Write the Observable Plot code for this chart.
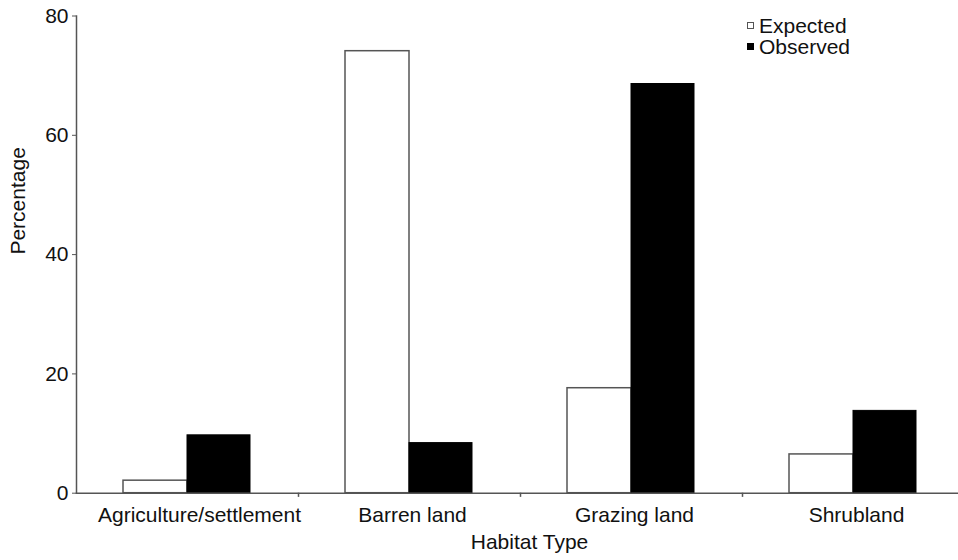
<!DOCTYPE html>
<html>
<head>
<meta charset="utf-8">
<script src="https://cdn.jsdelivr.net/npm/d3@7"></script>
<script src="https://cdn.jsdelivr.net/npm/@observablehq/plot@0.6"></script>
<style>
  html, body { margin: 0; padding: 0; background: #fff; overflow: hidden; }
  #wrap { position: relative; width: 958px; height: 560px; font-family: "Liberation Sans", Arial, Helvetica, sans-serif; }
  #legend { position: absolute; left: 747px; top: 15px; font-size: 21px; color: #111; line-height: 21px; }
  #legend .row { display: flex; align-items: center; }
  #legend .sw { width: 7px; height: 7px; margin-right: 5px; box-sizing: border-box; }
</style>
</head>
<body>
<div id="wrap">
  <div id="chart"></div>
  <div id="legend"></div>
</div>
<script>
const categories = ["Agriculture/settlement", "Barren land", "Grazing land", "Shrubland"];
const expected = [2.1, 74.1, 17.6, 6.5];
const observed = [9.7, 8.4, 68.6, 13.8];
const yTicks = [0, 20, 40, 60, 80];
const seriesNames = ["Expected", "Observed"];
const xTitle = "Habitat Type";
const yTitle = "Percentage";

const axisColor = "#555";
const font = '"Liberation Sans", Arial, Helvetica, sans-serif';

const plot = Plot.plot({
  width: 958,
  height: 560,
  marginLeft: 76,
  marginRight: 0,
  marginTop: 15.5,
  marginBottom: 67.3,
  style: { fontFamily: font, fontSize: "21px", color: "#111", background: "white" },
  x: { domain: categories, range: [76, 964], padding: 0 },
  y: { domain: [0, 80] },
  marks: [
    Plot.barY(categories, {
      x: d => d, y: (d, i) => expected[i],
      fill: "white", stroke: axisColor, strokeWidth: 1.5,
      insetLeft: 47, insetRight: 111
    }),
    Plot.barY(categories, {
      x: d => d, y: (d, i) => observed[i],
      fill: "black", stroke: "black", strokeWidth: 1,
      insetLeft: 111, insetRight: 48
    }),
    Plot.frame({ anchor: "left", stroke: axisColor, strokeWidth: 1.5 }),
    Plot.frame({ anchor: "bottom", stroke: axisColor, strokeWidth: 1.5 }),
    Plot.ruleX(categories.slice(1), { x: d => d, dx: -111, y1: 0, y2: -0.7, stroke: axisColor, strokeWidth: 1.5 }),
    Plot.axisY({ ticks: yTicks, tickSize: 4, tickPadding: 4, label: null, stroke: axisColor, fontSize: 21, fill: "#111" }),
    Plot.axisX({ ticks: categories.slice(0, 1), tickSize: 0, tickPadding: 14, label: null, fontSize: 21, fill: "#111", dx: 12 }),
    Plot.axisX({ ticks: categories.slice(1), tickSize: 0, tickPadding: 14, label: null, fontSize: 21, fill: "#111", dx: 3 }),
    Plot.text([xTitle], { text: d => d, frameAnchor: "bottom", dx: 12, dy: 56, fontSize: 21, fill: "#111" }),
    Plot.text([yTitle], { text: d => d, frameAnchor: "left", rotate: -90, dx: -58, fontSize: 21, fill: "#111" })
  ]
});
document.getElementById("chart").appendChild(plot);

const legend = document.getElementById("legend");
const swStyles = [
  "background:#fff;border:1.5px solid " + axisColor + ";",
  "background:#000;border:1px solid #000;"
];
seriesNames.forEach((name, i) => {
  const row = document.createElement("div");
  row.className = "row";
  row.innerHTML = `<span class="sw" style="${swStyles[i]}"></span><span>${name}</span>`;
  legend.appendChild(row);
});
</script>
</body>
</html>
